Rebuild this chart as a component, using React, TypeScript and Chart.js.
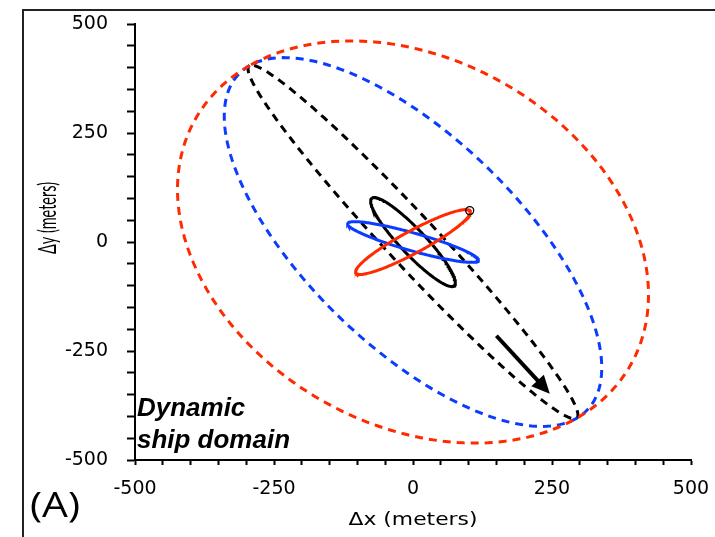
import React, { useEffect, useRef } from 'react';
import { Chart, registerables } from 'chart.js';

Chart.register(...registerables);

// ---- data ----
const ellipseNames = ['Domain black (dashed)', 'Domain blue (dashed)', 'Domain red (dashed)', 'Ellipse black', 'Ellipse blue', 'Ellipse red'];
const ellipseCenterX = [0, 0, 0, 0, 0, 0];
const ellipseCenterY = [0, 0, 0, 0, 0, 0];
const ellipseSemiMajor = [500, 500, 500, 125, 125, 125];
const ellipseSemiMinor = [50, 210, 377, 25, 20, 24];
const ellipseAngleDeg = [126, 126, 126, 126, 160, 35];

const shipX = [102];
const shipY = [72];

const arrowX = [150, 246];
const arrowY = [-215, -348];

const xTickLabels = [-500, -250, 0, 250, 500];
const yTickLabels = [-500, -250, 0, 250, 500];

// ---- styles ----
const ellipseColors = ['#000000', '#0a3cff', '#ff2a00', '#000000', '#0a3cff', '#ff2a00'];
const ellipseDashed = [true, true, true, false, false, false];
const ellipseOrder = [6, 5, 4, 3, 2, 1];

function ellipsePoints(i: number) {
  const pts: { x: number; y: number }[] = [];
  const th = (ellipseAngleDeg[i] * Math.PI) / 180;
  const a = ellipseSemiMajor[i];
  const b = ellipseSemiMinor[i];
  const n = 240;
  for (let k = 0; k <= n; k++) {
    const t = (2 * Math.PI * k) / n;
    const u = a * Math.cos(t);
    const v = b * Math.sin(t);
    pts.push({
      x: ellipseCenterX[i] + u * Math.cos(th) - v * Math.sin(th),
      y: ellipseCenterY[i] + u * Math.sin(th) + v * Math.cos(th),
    });
  }
  return pts;
}

function fitText(ctx: CanvasRenderingContext2D, text: string, x: number, y: number, targetW: number, align: 'left' | 'center') {
  const w = ctx.measureText(text).width;
  const s = targetW / w;
  ctx.save();
  ctx.translate(x, y);
  ctx.scale(s, 1);
  ctx.textAlign = align;
  ctx.fillText(text, 0, 0);
  ctx.restore();
}

const decorPlugin = {
  id: 'decor',
  beforeDraw(chart: any) {
    const ctx = chart.ctx as CanvasRenderingContext2D;
    ctx.save();
    ctx.fillStyle = '#ffffff';
    ctx.fillRect(0, 0, chart.width, chart.height);
    ctx.strokeStyle = '#222222';
    ctx.lineWidth = 2;
    ctx.beginPath();
    ctx.moveTo(23, chart.height + 2);
    ctx.lineTo(23, 10);
    ctx.lineTo(chart.width + 2, 10);
    ctx.stroke();
    ctx.restore();
  },
  afterDatasetsDraw(chart: any) {
    const ctx = chart.ctx as CanvasRenderingContext2D;
    const xs = chart.scales.x;
    const ys = chart.scales.y;
    const x0 = xs.getPixelForValue(arrowX[0]);
    const y0 = ys.getPixelForValue(arrowY[0]);
    const x1 = xs.getPixelForValue(arrowX[1]);
    const y1 = ys.getPixelForValue(arrowY[1]);
    const ang = Math.atan2(y1 - y0, x1 - x0);
    const headLen = 18;
    const headHalf = 8.5;
    const bx = x1 - headLen * Math.cos(ang);
    const by = y1 - headLen * Math.sin(ang);
    ctx.save();
    ctx.strokeStyle = '#000';
    ctx.fillStyle = '#000';
    ctx.lineWidth = 4;
    ctx.beginPath();
    ctx.moveTo(x0, y0);
    ctx.lineTo(bx + 2 * Math.cos(ang), by + 2 * Math.sin(ang));
    ctx.stroke();
    ctx.beginPath();
    ctx.moveTo(x1, y1);
    ctx.lineTo(bx + headHalf * Math.sin(ang), by - headHalf * Math.cos(ang));
    ctx.lineTo(bx - headHalf * Math.sin(ang), by + headHalf * Math.cos(ang));
    ctx.closePath();
    ctx.fill();
    ctx.restore();
  },
  afterDraw(chart: any) {
    const ctx = chart.ctx as CanvasRenderingContext2D;
    const area = chart.chartArea;
    ctx.save();
    ctx.fillStyle = '#000';
    ctx.textBaseline = 'middle';

    // y axis title (rotated)
    ctx.save();
    ctx.font = '25px Lato';
    ctx.translate(48, 218);
    ctx.rotate(-Math.PI / 2);
    fitText(ctx, '\u0394y (meters)', 0, 0, 72, 'center');
    ctx.restore();

    // x axis title
    ctx.font = '18px "DejaVu Sans"';
    fitText(ctx, '\u0394x (meters)', (area.left + area.right) / 2, 520, 129, 'center');

    // panel label
    ctx.textBaseline = 'alphabetic';
    ctx.font = '35px "Open Sans"';
    fitText(ctx, '(A)', 30, 517, 50, 'left');

    // annotation
    ctx.font = 'italic bold 25px "Liberation Sans"';
    const w2 = ctx.measureText('ship domain').width;
    const s = 153 / w2;
    ctx.save();
    ctx.translate(area.left + 2, 0);
    ctx.scale(s, 1);
    ctx.textAlign = 'left';
    ctx.fillText('Dynamic', 0, 416);
    ctx.fillText('ship domain', 0, 448);
    ctx.restore();

    ctx.restore();
  },
};

export default function App() {
  const ref = useRef<HTMLCanvasElement | null>(null);

  useEffect(() => {
    const canvas = ref.current;
    if (!canvas) return;

    const datasets: any[] = ellipseNames.map((name, i) => ({
      type: 'scatter',
      label: name,
      data: ellipsePoints(i),
      showLine: true,
      fill: false,
      borderColor: ellipseColors[i],
      backgroundColor: ellipseColors[i],
      borderWidth: 3,
      borderDash: ellipseDashed[i] ? [8, 6] : [],
      pointRadius: 0,
      pointHoverRadius: 0,
      tension: 0,
      order: ellipseOrder[i],
    }));

    datasets.push({
      type: 'scatter',
      label: 'Ship',
      data: shipX.map((x, k) => ({ x, y: shipY[k] })),
      pointRadius: 4,
      pointBorderWidth: 1.3,
      pointBorderColor: '#000',
      pointBackgroundColor: 'rgba(0,0,0,0)',
      showLine: false,
      order: 0,
    });

    const chart = new Chart(canvas, {
      type: 'scatter',
      data: { datasets },
      plugins: [decorPlugin],
      options: {
        responsive: false,
        animation: false,
        devicePixelRatio: 1,
        layout: { autoPadding: false, padding: { top: 24, right: 24, left: 0, bottom: 0 } },
        plugins: {
          legend: { display: false },
          tooltip: { enabled: false },
        },
        scales: {
          x: {
            type: 'linear',
            min: -500,
            max: 500,
            afterFit: (scale: any) => {
              scale.height = 77;
              scale.paddingLeft = 0;
              scale.paddingRight = 0;
              scale.paddingTop = 0;
              scale.paddingBottom = 0;
            },
            ticks: {
              stepSize: 50,
              autoSkip: false,
              maxRotation: 0,
              padding: 13,
              color: '#000',
              font: { family: 'DejaVu Sans', size: 19 },
              callback: (v: any) => (xTickLabels.includes(Number(v)) ? String(v) : ''),
            },
            grid: {
              drawOnChartArea: false,
              drawTicks: true,
              tickLength: 5,
              tickColor: '#000',
              tickWidth: 2,
            },
            border: { display: true, color: '#000', width: 2 },
          },
          y: {
            type: 'linear',
            min: -500,
            max: 500,
            afterFit: (scale: any) => {
              scale.width = 135;
              scale.paddingLeft = 0;
              scale.paddingRight = 0;
              scale.paddingTop = 0;
              scale.paddingBottom = 0;
            },
            ticks: {
              stepSize: 50,
              autoSkip: false,
              padding: 19,
              color: '#000',
              font: { family: 'DejaVu Sans', size: 19 },
              callback: (v: any) => (yTickLabels.includes(Number(v)) ? String(v) : ''),
            },
            grid: {
              drawOnChartArea: false,
              drawTicks: true,
              tickLength: 8,
              tickColor: '#000',
              tickWidth: 2,
            },
            border: { display: true, color: '#000', width: 2 },
          },
        },
      } as any,
    });

    return () => chart.destroy();
  }, []);

  return (
    <div style={{ position: 'fixed', left: 0, top: 0, width: 715, height: 537, background: '#fff' }}>
      <canvas ref={ref} width={715} height={537} style={{ display: 'block', width: 715, height: 537 }} />
    </div>
  );
}
